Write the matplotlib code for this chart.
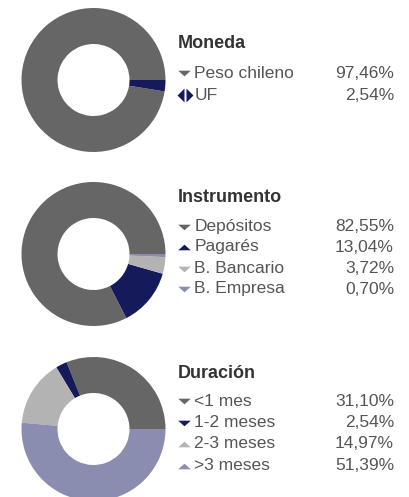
import numpy as np
import matplotlib.pyplot as plt

W, H = 409, 497

# datos
moneda_labels = ["Peso chileno", "UF"]
moneda_vals = [97.46, 2.54]
moneda_txt = ["97,46%", "2,54%"]

instr_labels = ["Depósitos", "Pagarés", "B. Bancario", "B. Empresa"]
instr_vals = [82.55, 13.04, 3.72, 0.70]
instr_txt = ["82,55%", "13,04%", "3,72%", "0,70%"]

dur_labels = ["<1 mes", "1-2 meses", "2-3 meses", ">3 meses"]
dur_vals = [31.10, 2.54, 14.97, 51.39]
dur_txt = ["31,10%", "2,54%", "14,97%", "51,39%"]

GRIS = "#666666"
AZUL = "#141a5a"
GRIS_CL = "#b3b3b3"
LILA = "#8a8db0"

plt.rcParams['font.family'] = ['Liberation Sans', 'DejaVu Sans']

fig = plt.figure(figsize=(W / 100, H / 100), dpi=100)

# marcadores tipo triangulo achatado
TRI_DOWN = [(-1, 0.45), (1, 0.45), (0, -0.45), (-1, 0.45)]
TRI_UP = [(-1, -0.45), (1, -0.45), (0, 0.45), (-1, -0.45)]
# rombo partido en dos mitades
MEDIO_IZQ = [(0, -1), (-1, 0), (0, 1), (0, -1)]
MEDIO_DER = [(0, -1), (1, 0), (0, 1), (0, -1)]


def donut(cx, cy, r, vals, colors):
    ax = fig.add_axes([(cx - r) / W, 1 - (cy + r) / H, 2 * r / W, 2 * r / H])
    ax.pie(vals, colors=colors, startangle=0, counterclock=True,
           wedgeprops=dict(width=0.5, edgecolor='none'), radius=1)
    ax.set_xlim(-1, 1)
    ax.set_ylim(-1, 1)
    ax.set_aspect('equal')
    ax.axis('off')


donut(93.5, 80, 72, moneda_vals, [GRIS, AZUL])
donut(93.5, 254, 72, instr_vals, [GRIS, AZUL, GRIS_CL, LILA])
donut(93.5, 429, 72, dur_vals, [GRIS, AZUL, GRIS_CL, LILA])

# capa de textos en pixeles
lay = fig.add_axes([0, 0, 1, 1])
lay.set_xlim(0, W)
lay.set_ylim(H, 0)
lay.axis('off')


def leyenda(titulo, ty, labels, vals_txt, ys, markers, colors):
    lay.text(177.5, ty, titulo, fontsize=13, fontweight='bold', color='#333333',
             va='center', ha='left')
    for lab, v, y, m, c in zip(labels, vals_txt, ys, markers, colors):
        if m == 'lr':
            lay.plot([184.3], [y], marker=MEDIO_IZQ, ms=10, color=c, mew=0)
            lay.plot([185.7], [y], marker=MEDIO_DER, ms=10, color=c, mew=0)
        else:
            lay.plot([184], [y], marker=m, ms=9, color=c, mew=0)
        lay.text(194.5, y, lab, fontsize=12.5, color='#555555', va='center', ha='left')
        lay.text(394, y, v, fontsize=12.5, color='#555555', va='center', ha='right')


leyenda("Moneda", 44, moneda_labels, moneda_txt, [73, 95],
        [TRI_DOWN, 'lr'], [GRIS, AZUL])
leyenda("Instrumento", 197, instr_labels, instr_txt, [226.5, 247, 268.5, 289],
        [TRI_DOWN, TRI_UP, TRI_DOWN, TRI_DOWN], [GRIS, AZUL, GRIS_CL, LILA])
leyenda("Duración", 373, dur_labels, dur_txt, [401, 422.5, 444, 465.5],
        [TRI_DOWN, TRI_DOWN, TRI_UP, TRI_UP], [GRIS, AZUL, GRIS_CL, LILA])

fig.savefig("out.png", dpi=100)
